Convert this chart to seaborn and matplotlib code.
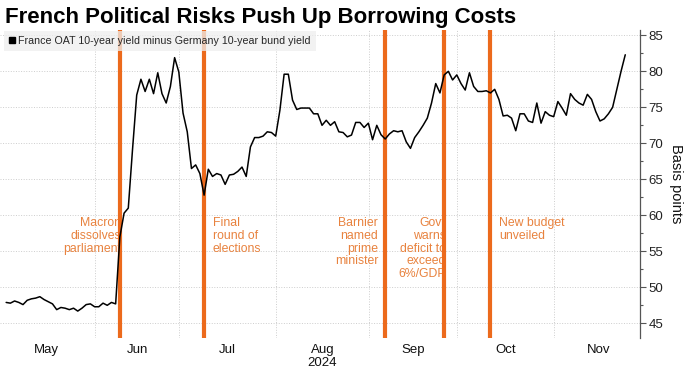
import numpy as np
import pandas as pd
import seaborn as sns
import matplotlib.pyplot as plt
from matplotlib.lines import Line2D
from matplotlib.ticker import MultipleLocator

# France OAT minus Bund 10y spread, bp, one value per business day
spread = [
    47.9, 47.8, 48.1, 47.9, 47.6, 48.2, 48.4, 48.5, 48.7, 48.3,
    48.0, 47.7, 46.9, 47.2, 47.1, 46.9, 47.1, 46.7, 47.1, 47.6,
    47.7, 47.3, 47.3, 47.8, 47.5, 47.9, 47.7, 57.0, 60.3, 61.0,
    69.1, 76.7, 78.9, 77.2, 78.9, 76.9, 79.8, 76.9, 75.6, 77.9,
    81.9, 79.9, 74.2, 71.6, 66.5, 67.0, 65.8, 62.8, 66.4, 65.4,
    65.8, 65.6, 64.3, 65.6, 65.7, 66.1, 66.7, 65.4, 69.5, 70.8,
    70.8, 71.0, 71.6, 71.5, 71.0, 74.6, 79.6, 79.6, 76.0, 74.7,
    74.9, 74.9, 74.9, 74.1, 74.1, 72.5, 73.2, 72.5, 73.0, 71.6,
    71.5, 70.9, 71.15, 72.9, 72.9, 72.2, 72.8, 70.5, 72.5, 71.2,
    70.6, 71.3, 71.75, 71.6, 71.75, 70.2, 69.3, 70.8, 71.6, 72.5,
    73.5, 75.6, 78.3, 77.0, 79.5, 80.0, 78.8, 79.5, 78.3, 77.4,
    79.8, 77.9, 77.2, 77.2, 77.3, 77.0, 77.5, 76.1, 73.8, 73.9,
    73.5, 71.75, 74.1, 74.1, 73.1, 72.9, 75.6, 72.8, 74.4, 73.9,
    73.7, 75.8, 74.9, 73.9, 76.9, 76.1, 75.6, 75.3, 76.8, 76.1,
    74.4, 73.1, 73.4, 74.1, 75.0, 77.5, 80.0, 82.3,
]
first_day = "2024-05-02"
last_day = "2024-11-25"

event_dates = ["2024-06-10", "2024-07-08", "2024-09-05", "2024-09-25", "2024-10-10"]
event_labels = [
    "Macron\ndissolves\nparliament",
    "Final\nround of\nelections",
    "Barnier\nnamed\nprime\nminister",
    "Govt\nwarns\ndeficit to\nexceed\n6%/GDP",
    "New budget\nunveiled",
]
event_sides = ["right", "left", "right", "right", "left"]

month_labels = ["May", "Jun", "Jul", "Aug\n2024", "Sep", "Oct", "Nov"]
month_starts = ["2024-05-01", "2024-06-01", "2024-07-01", "2024-08-01",
                "2024-09-01", "2024-10-01", "2024-11-01", "2024-12-01"]

orange_line = "#ec6a1c"
orange_text = "#e8823e"
origin = np.datetime64("2024-05-01")


def bday_pos(d):
    return np.busday_count(origin, np.datetime64(d, "D"))


dates = pd.bdate_range(first_day, last_day)
df = pd.DataFrame({
    "day": np.busday_count(origin, dates.values.astype("datetime64[D]")),
    "spread": spread,
})

sns.set_style("white")
plt.rcParams["font.family"] = ["Liberation Sans", "DejaVu Sans"]

fig = plt.figure(figsize=(6.86, 3.70), dpi=100)
ax = fig.add_axes([0, 32 / 370, 640 / 686, 308 / 370])

# month boundaries (gridlines) and mid-month labels
bounds = np.array([bday_pos(m) for m in month_starts]) - 0.9
mids = (bounds[:-1] + bounds[1:]) / 2
ax.set_xticks(bounds, minor=True)
ax.set_xticks(mids, month_labels)

# event lines
for d, lab, side in zip(event_dates, event_labels, event_sides):
    p = bday_pos(d)
    ax.axvline(p, color=orange_line, lw=3, zorder=3)
    if side == "right":
        tx = p + (0.3 if lab[0] != "B" else -1.7)
    else:
        tx = p + 2.0
    ax.text(tx, 59.8, lab, ha=side, va="top", multialignment=side,
            color=orange_text, fontsize=8.8, linespacing=1.1, zorder=2)

sns.lineplot(data=df, x="day", y="spread", color="black", lw=1.1, ax=ax, zorder=4)

ax.set_xlim(-0.46, 151.5)
ax.set_ylim(42.96, 85.74)
ax.set_yticks(range(45, 90, 5))
ax.yaxis.set_minor_locator(MultipleLocator(2.5))
ax.yaxis.tick_right()
ax.yaxis.set_label_position("right")
ax.set_xlabel("")
ax.set_ylabel("Basis points", rotation=270, fontsize=10.5, labelpad=14, color="#111")

ax.grid(axis="y", which="major", ls=":", color="#cdcdcd", lw=0.7)
ax.grid(axis="x", which="minor", ls=":", color="#cdcdcd", lw=0.7)
ax.xaxis.grid(False, which="major")
ax.tick_params(axis="x", which="both", length=0, labelsize=9.5, pad=4, colors="#111")
ax.tick_params(axis="y", which="major", direction="out", length=4, width=0.8,
               color="#555", labelsize=9.5, pad=2, labelcolor="#222")
ax.tick_params(axis="y", which="minor", direction="out", length=2.5, width=0.8, color="#555")

for s in ["top", "left", "bottom"]:
    ax.spines[s].set_visible(False)
ax.spines["right"].set_color("#555")
ax.spines["right"].set_linewidth(0.9)

handle = Line2D([], [], marker="s", color="black", linestyle="none", markersize=5)
leg = ax.legend([handle], ["France OAT 10-year yield minus Germany 10-year bund yield"],
                loc="upper left", bbox_to_anchor=(0.006, 0.997), borderaxespad=0,
                fontsize=7.7, frameon=True, fancybox=False, framealpha=0.75,
                facecolor="#eeeeee", edgecolor="none", handlelength=0.6,
                handletextpad=0.3, borderpad=0.45)
leg.set_zorder(5)

fig.text(5 / 686, 1 - 17 / 370, "French Political Risks Push Up Borrowing Costs",
         fontsize=16, fontweight="bold", va="center", ha="left", color="black")

plt.savefig("out.png", dpi=100)
